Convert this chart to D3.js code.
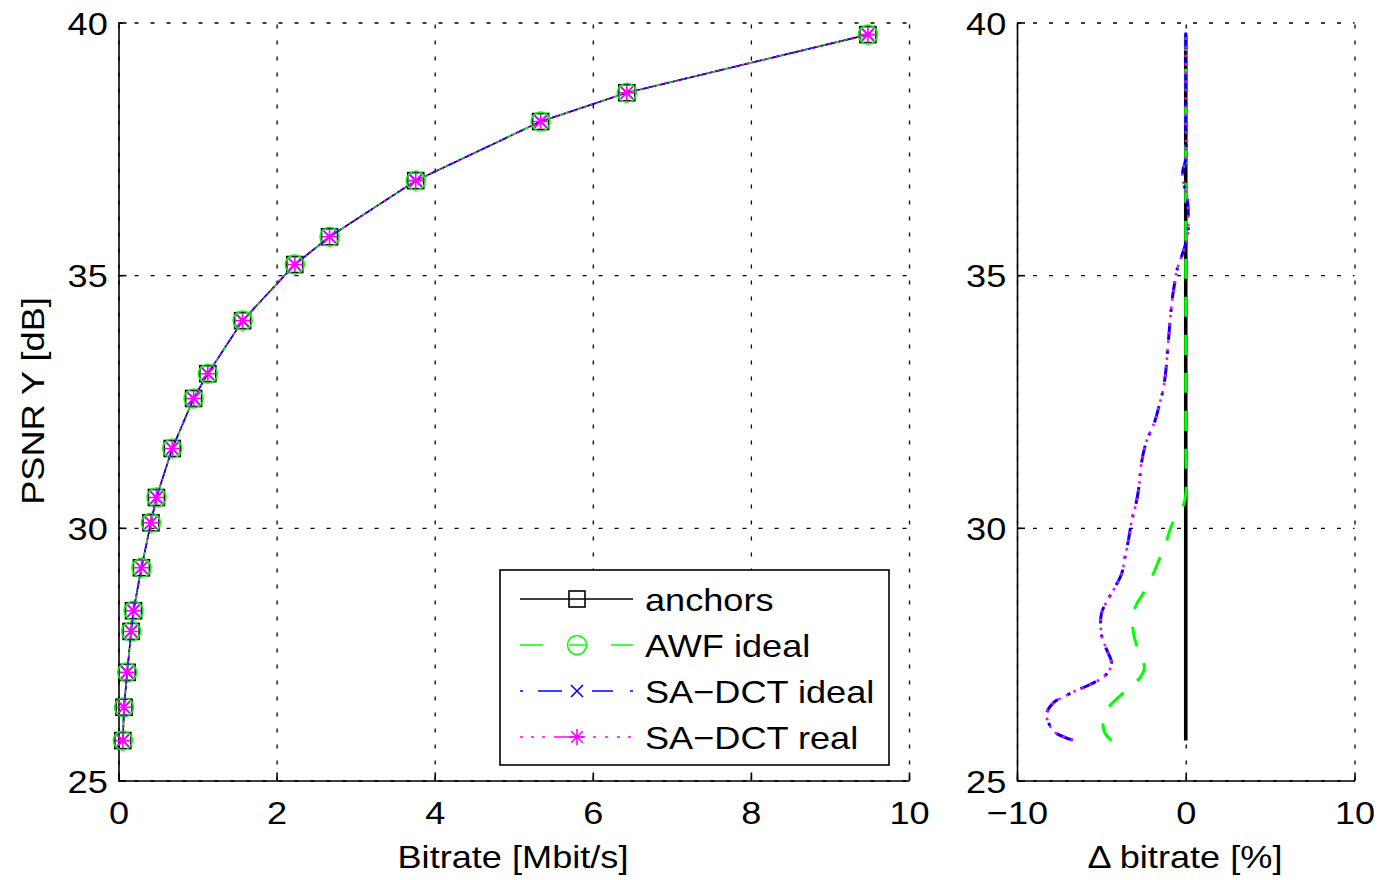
<!DOCTYPE html>
<html>
<head>
<meta charset="utf-8">
<script src="https://cdn.jsdelivr.net/npm/d3@7"></script>
<style>
  html, body { margin: 0; padding: 0; background: #fff; }
  svg text { font-family: "Liberation Sans", Arial, sans-serif; fill: #000; }
</style>
</head>
<body>
<svg id="chart" width="1379" height="880"></svg>
<script>
// ---------- data ----------
const psnrTicks = [25, 30, 35, 40];
const rateTicks = [0, 2, 4, 6, 8, 10];
const deltaTicks = [-10, 0, 10];

// rate-distortion points (left panel)
const anchorsPsnr = [25.79, 26.45, 27.14, 27.95, 28.36, 29.21, 30.10, 30.60, 31.57, 32.56, 33.05, 34.10, 35.21, 35.76, 36.87, 38.04, 38.61, 39.76];
const anchorsRate = [0.055, 0.07, 0.11, 0.16, 0.19, 0.29, 0.41, 0.48, 0.68, 0.95, 1.13, 1.57, 2.23, 2.67, 3.76, 5.34, 6.43, 9.48];
const awfRate      = [0.055, 0.07, 0.11, 0.16, 0.19, 0.29, 0.41, 0.48, 0.68, 0.95, 1.13, 1.57, 2.23, 2.67, 3.76, 5.34, 6.43, 9.48];
const sadctIdealRate = [0.055, 0.07, 0.11, 0.16, 0.19, 0.29, 0.41, 0.48, 0.68, 0.95, 1.13, 1.57, 2.23, 2.67, 3.76, 5.34, 6.43, 9.48];
const sadctRealRate  = [0.055, 0.07, 0.11, 0.16, 0.19, 0.29, 0.41, 0.48, 0.68, 0.95, 1.13, 1.57, 2.23, 2.67, 3.76, 5.34, 6.43, 9.48];

// delta bitrate curves (right panel)
const anchorsDelta = [0, 0, 0, 0, 0, 0, 0, 0, 0, 0, 0, 0, 0, 0, 0, 0, 0, 0];

const awfDeltaPsnr = [25.79, 25.95, 26.10, 26.30, 26.48, 26.75, 27.04, 27.24, 27.44, 27.84, 28.23, 28.50, 28.63, 28.96, 29.35, 29.68, 30.08, 30.44, 30.65, 31.57, 32.56, 33.05, 34.10, 35.21, 35.76, 36.87, 38.04, 38.61, 39.76];
const awfDelta     = [-4.4, -4.8, -4.9, -4.8, -4.5, -3.65, -2.7, -2.45, -2.65, -3.05, -3.15, -2.9, -2.65, -2.1, -1.6, -1.2, -0.8, -0.15, 0, 0, 0, 0, 0, 0, 0, 0, 0, 0, 0];

const sadctIdealPsnr = [25.80, 25.95, 26.12, 26.32, 26.55, 26.65, 26.75, 26.88, 27.04, 27.20, 27.34, 27.64, 27.90, 28.30, 28.53, 28.82, 29.09, 29.42, 29.75, 30.14, 30.47, 30.87, 31.23, 31.69, 32.09, 32.39, 32.72, 33.05, 33.41, 33.81, 34.20, 34.53, 34.86, 35.13, 35.42, 35.75, 36.10, 36.50, 37.00, 37.30, 38.04, 38.61, 39.80];
const sadctIdealDelta = [-6.7, -7.75, -8.1, -8.25, -7.8, -7.25, -6.7, -5.8, -4.9, -4.5, -4.4, -4.75, -5.0, -5.0, -4.7, -4.2, -3.8, -3.6, -3.4, -3.2, -2.95, -2.75, -2.65, -2.35, -1.85, -1.6, -1.35, -1.2, -1.1, -1.0, -0.9, -0.8, -0.65, -0.5, -0.2, 0.1, 0.15, 0.1, -0.2, 0, 0, 0, 0];
const sadctRealPsnr = [25.80, 25.95, 26.12, 26.32, 26.55, 26.65, 26.75, 26.88, 27.04, 27.20, 27.34, 27.64, 27.90, 28.30, 28.53, 28.82, 29.09, 29.42, 29.75, 30.14, 30.47, 30.87, 31.23, 31.69, 32.09, 32.39, 32.72, 33.05, 33.41, 33.81, 34.20, 34.53, 34.86, 35.13, 35.42, 35.75, 36.10, 36.50, 37.00, 37.30, 38.04, 38.61, 39.80];
const sadctRealDelta = [-6.7, -7.75, -8.1, -8.25, -7.8, -7.25, -6.7, -5.8, -4.9, -4.5, -4.4, -4.75, -5.0, -5.0, -4.7, -4.2, -3.8, -3.6, -3.4, -3.2, -2.95, -2.75, -2.65, -2.35, -1.85, -1.6, -1.35, -1.2, -1.1, -1.0, -0.9, -0.8, -0.65, -0.5, -0.2, 0.1, 0.15, 0.1, -0.2, 0, 0, 0, 0];

const seriesNames = ["anchors", "AWF ideal", "SA\u2212DCT ideal", "SA\u2212DCT real"];

// ---------- setup ----------
const svg = d3.select("#chart");
const SX = 1.13; // horizontal text stretch
const FS = 32;

const plotTop = 22.5, plotBottom = 780.5;
const yL = d3.scaleLinear().domain([25, 40]).range([plotBottom, plotTop]);
const xL = d3.scaleLinear().domain([0, 10]).range([118.5, 909]);
const xR = d3.scaleLinear().domain([-10, 10]).range([1017, 1354.5]);

const fmt = d => String(d).replace("-", "\u2212");

function drawPanel(x, y, xt, yt) {
  const g = svg.append("g");
  const w = x.range()[1] - x.range()[0];
  const h = plotBottom - plotTop;
  // grid
  g.append("g").attr("transform", `translate(0,${plotBottom})`)
    .call(d3.axisBottom(x).tickValues(xt).tickSize(-h).tickFormat(""))
    .call(s => s.select(".domain").remove())
    .selectAll("line").attr("stroke", "#000").attr("stroke-width", 1.3).attr("stroke-dasharray", "4,12");
  g.append("g").attr("transform", `translate(${x.range()[0]},0)`)
    .call(d3.axisLeft(y).tickValues(yt).tickSize(-w).tickFormat(""))
    .call(s => s.select(".domain").remove())
    .selectAll("line").attr("stroke", "#000").attr("stroke-width", 1.3).attr("stroke-dasharray", "4,12");
  // axes
  const ax = g.append("g").attr("transform", `translate(0,${plotBottom})`)
    .call(d3.axisBottom(x).tickValues(xt).tickSizeInner(-8).tickSizeOuter(0).tickFormat(fmt));
  ax.attr("font-family", null).attr("font-size", null);
  ax.select(".domain").attr("stroke", "#000").attr("stroke-width", 1.6);
  ax.selectAll(".tick line").attr("stroke", "#000").attr("stroke-width", 1.6);
  ax.selectAll("text").attr("y", 44).attr("dy", null)
    .attr("font-size", FS).attr("transform", `scale(${SX},1)`);
  const ay = g.append("g").attr("transform", `translate(${x.range()[0]},0)`)
    .call(d3.axisLeft(y).tickValues(yt).tickSizeInner(-8).tickSizeOuter(0).tickPadding(10).tickFormat(fmt));
  ay.attr("font-family", null).attr("font-size", null);
  ay.select(".domain").attr("stroke", "#000").attr("stroke-width", 1.6);
  ay.selectAll(".tick line").attr("stroke", "#000").attr("stroke-width", 1.6);
  ay.selectAll("text").attr("x", -9.5).attr("dy", "0.36em")
    .attr("font-size", FS).attr("transform", `scale(${SX},1)`);
  return g;
}

drawPanel(xL, yL, rateTicks, psnrTicks);
drawPanel(xR, yL, deltaTicks, psnrTicks);

// ---------- markers ----------
function marker(g, type, cx, cy) {
  if (type === "square") {
    g.append("rect").attr("x", cx - 8).attr("y", cy - 8).attr("width", 16).attr("height", 16)
      .attr("fill", "none").attr("stroke", "#000").attr("stroke-width", 1.6);
  } else if (type === "circle") {
    g.append("circle").attr("cx", cx).attr("cy", cy).attr("r", 9.5)
      .attr("fill", "none").attr("stroke", "#00ff00").attr("stroke-width", 1.6);
  } else if (type === "x") {
    const s = 6;
    g.append("path").attr("d", `M${cx - s},${cy - s}L${cx + s},${cy + s}M${cx - s},${cy + s}L${cx + s},${cy - s}`)
      .attr("stroke", "#0000ff").attr("stroke-width", 1.6).attr("fill", "none");
  } else if (type === "star") {
    const s = 8, d = 5.8;
    g.append("path").attr("d",
      `M${cx - s},${cy}L${cx + s},${cy}M${cx},${cy - s}L${cx},${cy + s}M${cx - d},${cy - d}L${cx + d},${cy + d}M${cx - d},${cy + d}L${cx + d},${cy - d}`)
      .attr("stroke", "#ff00ff").attr("stroke-width", 1.6).attr("fill", "none");
  }
}

// ---------- left panel series ----------
const leftSeries = [
  { rate: anchorsRate, color: "#000", dash: null, mk: "square" },
  { rate: awfRate, color: "#00ff00", dash: "9,5", mk: "circle" },
  { rate: sadctIdealRate, color: "#0000ff", dash: "9,4,2,4", mk: "x" },
  { rate: sadctRealRate, color: "#ff00ff", dash: "2,4", mk: "star" }
];
const gl = svg.append("g");
leftSeries.forEach(s => {
  const pts = s.rate.map((r, i) => [r, anchorsPsnr[i]]);
  const line = d3.line().x(d => xL(d[0])).y(d => yL(d[1]));
  gl.append("path").attr("d", line(pts)).attr("fill", "none")
    .attr("stroke", s.color).attr("stroke-width", 1.6)
    .attr("stroke-dasharray", s.dash);
  pts.forEach(d => marker(gl, s.mk, xL(d[0]), yL(d[1])));
});

// ---------- right panel series ----------
const rightSeries = [
  { p: anchorsPsnr, d: anchorsDelta, color: "#000", dash: null, w: 3.6 },
  { p: awfDeltaPsnr, d: awfDelta, color: "#00ff00", dash: "20,18", w: 3 },
  { p: sadctIdealPsnr, d: sadctIdealDelta, color: "#0000ff", dash: "17,11,3,11", w: 3 },
  { p: sadctRealPsnr, d: sadctRealDelta, color: "#ff00ff", dash: "2.5,6", w: 2.6 }
];
const gr = svg.append("g");
rightSeries.forEach(s => {
  const pts = s.p.map((p, i) => [s.d[i], p]);
  const line = d3.line().curve(d3.curveCatmullRom).x(d => xR(d[0])).y(d => yL(d[1]));
  gr.append("path").attr("d", line(pts)).attr("fill", "none")
    .attr("stroke", s.color).attr("stroke-width", s.w)
    .attr("stroke-dasharray", s.dash);
});

// ---------- legend ----------
const lg = svg.append("g");
lg.append("rect").attr("x", 500).attr("y", 570).attr("width", 389).attr("height", 195)
  .attr("fill", "#fff").attr("stroke", "#000").attr("stroke-width", 1.6);
const legRows = [
  { y: 599, color: "#000", dash: null, mk: "square" },
  { y: 645, color: "#00ff00", dash: "23,26,16,26,22", mk: "circle" },
  { y: 691, color: "#0000ff", dash: "3,15,24,30,21,17,3", mk: "x" },
  { y: 737, color: "#ff00ff", dash: "3,8,3,8,3,9,30,9,3,9,3,9", mk: "star" }
];
legRows.forEach((r, i) => {
  lg.append("line").attr("x1", 520).attr("x2", 633).attr("y1", r.y).attr("y2", r.y)
    .attr("stroke", r.color).attr("stroke-width", 1.6).attr("stroke-dasharray", r.dash);
  marker(lg, r.mk, 577, r.y);
  lg.append("text").attr("transform", `translate(645,${r.y}) scale(${SX},1)`)
    .attr("dy", "0.36em").attr("font-size", FS).text(seriesNames[i]);
});

// ---------- axis titles ----------
svg.append("text").attr("transform", `translate(513,868) scale(${SX},1)`)
  .attr("text-anchor", "middle").attr("font-size", FS).text("Bitrate [Mbit/s]");
svg.append("text").attr("transform", `translate(1185,868) scale(${SX},1)`)
  .attr("text-anchor", "middle").attr("font-size", FS).text("\u0394 bitrate [%]");
svg.append("text").attr("transform", `translate(44,401) rotate(-90) scale(${SX},1)`)
  .attr("text-anchor", "middle").attr("font-size", FS).text("PSNR Y [dB]");
</script>
</body>
</html>
